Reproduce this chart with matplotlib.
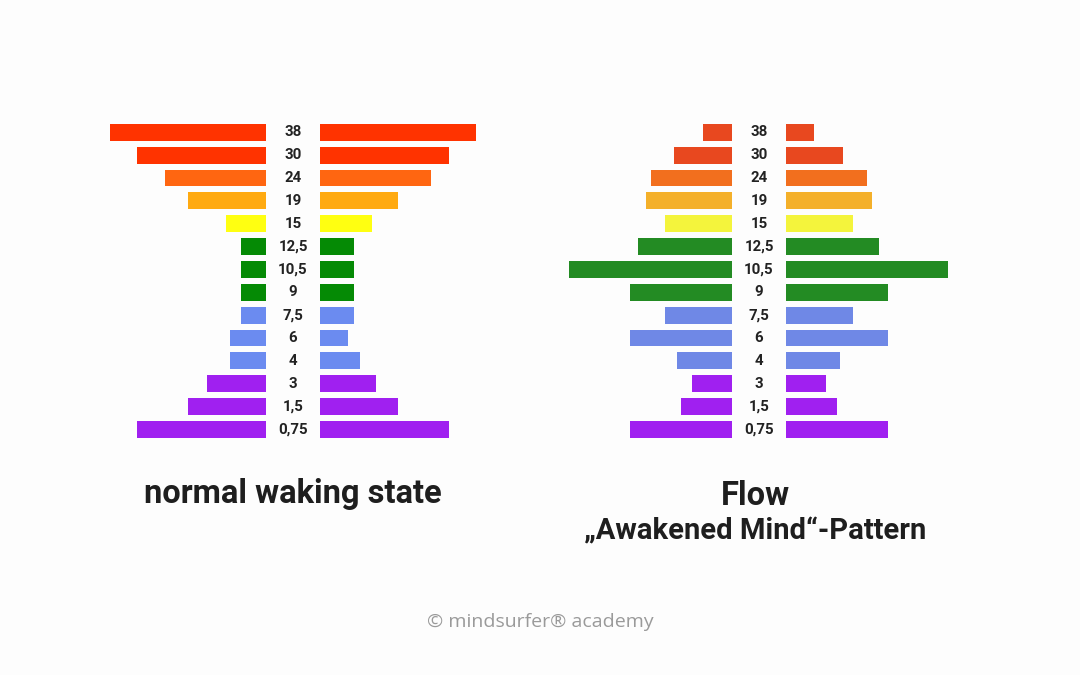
import matplotlib
matplotlib.use("Agg")
import matplotlib.pyplot as plt

# frequency bands (Hz), top to bottom
bands = ["38", "30", "24", "19", "15", "12,5", "10,5", "9", "7,5", "6", "4", "3", "1,5", "0,75"]

# amplitudes (arbitrary units)
waking_left = [156, 129, 101, 78, 40, 25, 25, 25, 25, 36, 36, 59, 78, 129]
waking_right = [156, 129, 111, 78, 52, 34, 34, 34, 34, 28, 40, 56, 78, 129]
flow_left = [29, 58, 81, 86, 67, 94, 163, 102, 67, 102, 55, 40, 51, 102]
flow_right = [28, 57, 81, 86, 67, 93, 162, 102, 67, 102, 54, 40, 51, 102]

waking_colors = ["#FF3300", "#FF3300", "#FF6611", "#FFAA11", "#FFFF11",
                 "#058A05", "#058A05", "#058A05",
                 "#6B8BF0", "#6B8BF0", "#6B8BF0",
                 "#A020F0", "#A020F0", "#A020F0"]
flow_colors = ["#E8481F", "#E8481F", "#F26F1E", "#F4B02A", "#F4F43C",
               "#238B23", "#238B23", "#238B23",
               "#6F88E6", "#6F88E6", "#6F88E6",
               "#A020F0", "#A020F0", "#A020F0"]

plt.rcParams["font.family"] = ["Roboto", "DejaVu Sans"]

W, H = 1080, 675
fig = plt.figure(figsize=(W / 100, H / 100), dpi=100)
fig.patch.set_facecolor("#fdfdfd")

gap = 26.7  # half-width of the label column
rows = list(range(len(bands)))


def butterfly(cx, left_vals, right_vals, colors):
    half = 200
    top, bottom = 120.9, 440.8
    ax = fig.add_axes([(cx - half) / W, 1 - bottom / H, 2 * half / W, (bottom - top) / H])
    ax.barh(rows, [-v for v in left_vals], left=-gap, height=0.74, color=colors)
    ax.barh(rows, right_vals, left=gap, height=0.74, color=colors)
    for r, lab in zip(rows, bands):
        ax.text(0, r, lab, ha="center", va="center", fontsize=10.8,
                fontweight="bold", color="#222222")
    ax.set_xlim(-half, half)
    ax.set_ylim(len(bands) - 0.5, -0.5)
    ax.axis("off")
    return ax


butterfly(293, waking_left, waking_right, waking_colors)
butterfly(759, flow_left, flow_right, flow_colors)

fig.text(293 / W, 1 - 494 / H, "normal waking state", ha="center", va="center",
         fontsize=23.5, fontweight="bold", color="#1e1e1e")
fig.text(755 / W, 1 - 496 / H, "Flow", ha="center", va="center",
         fontsize=23.5, fontweight="bold", color="#1e1e1e")
fig.text(755 / W, 1 - 531 / H, "\u201eAwakened Mind\u201c-Pattern", ha="center", va="center",
         fontsize=21, fontweight="bold", color="#1e1e1e")

fig.text(540 / W, 1 - 622 / H, "\u00a9 mindsurfer\u00ae academy", ha="center", va="center",
         fontsize=14, color="#9a9a9a", family=["Open Sans", "DejaVu Sans"])

fig.savefig("out.png", dpi=100, facecolor=fig.get_facecolor())
